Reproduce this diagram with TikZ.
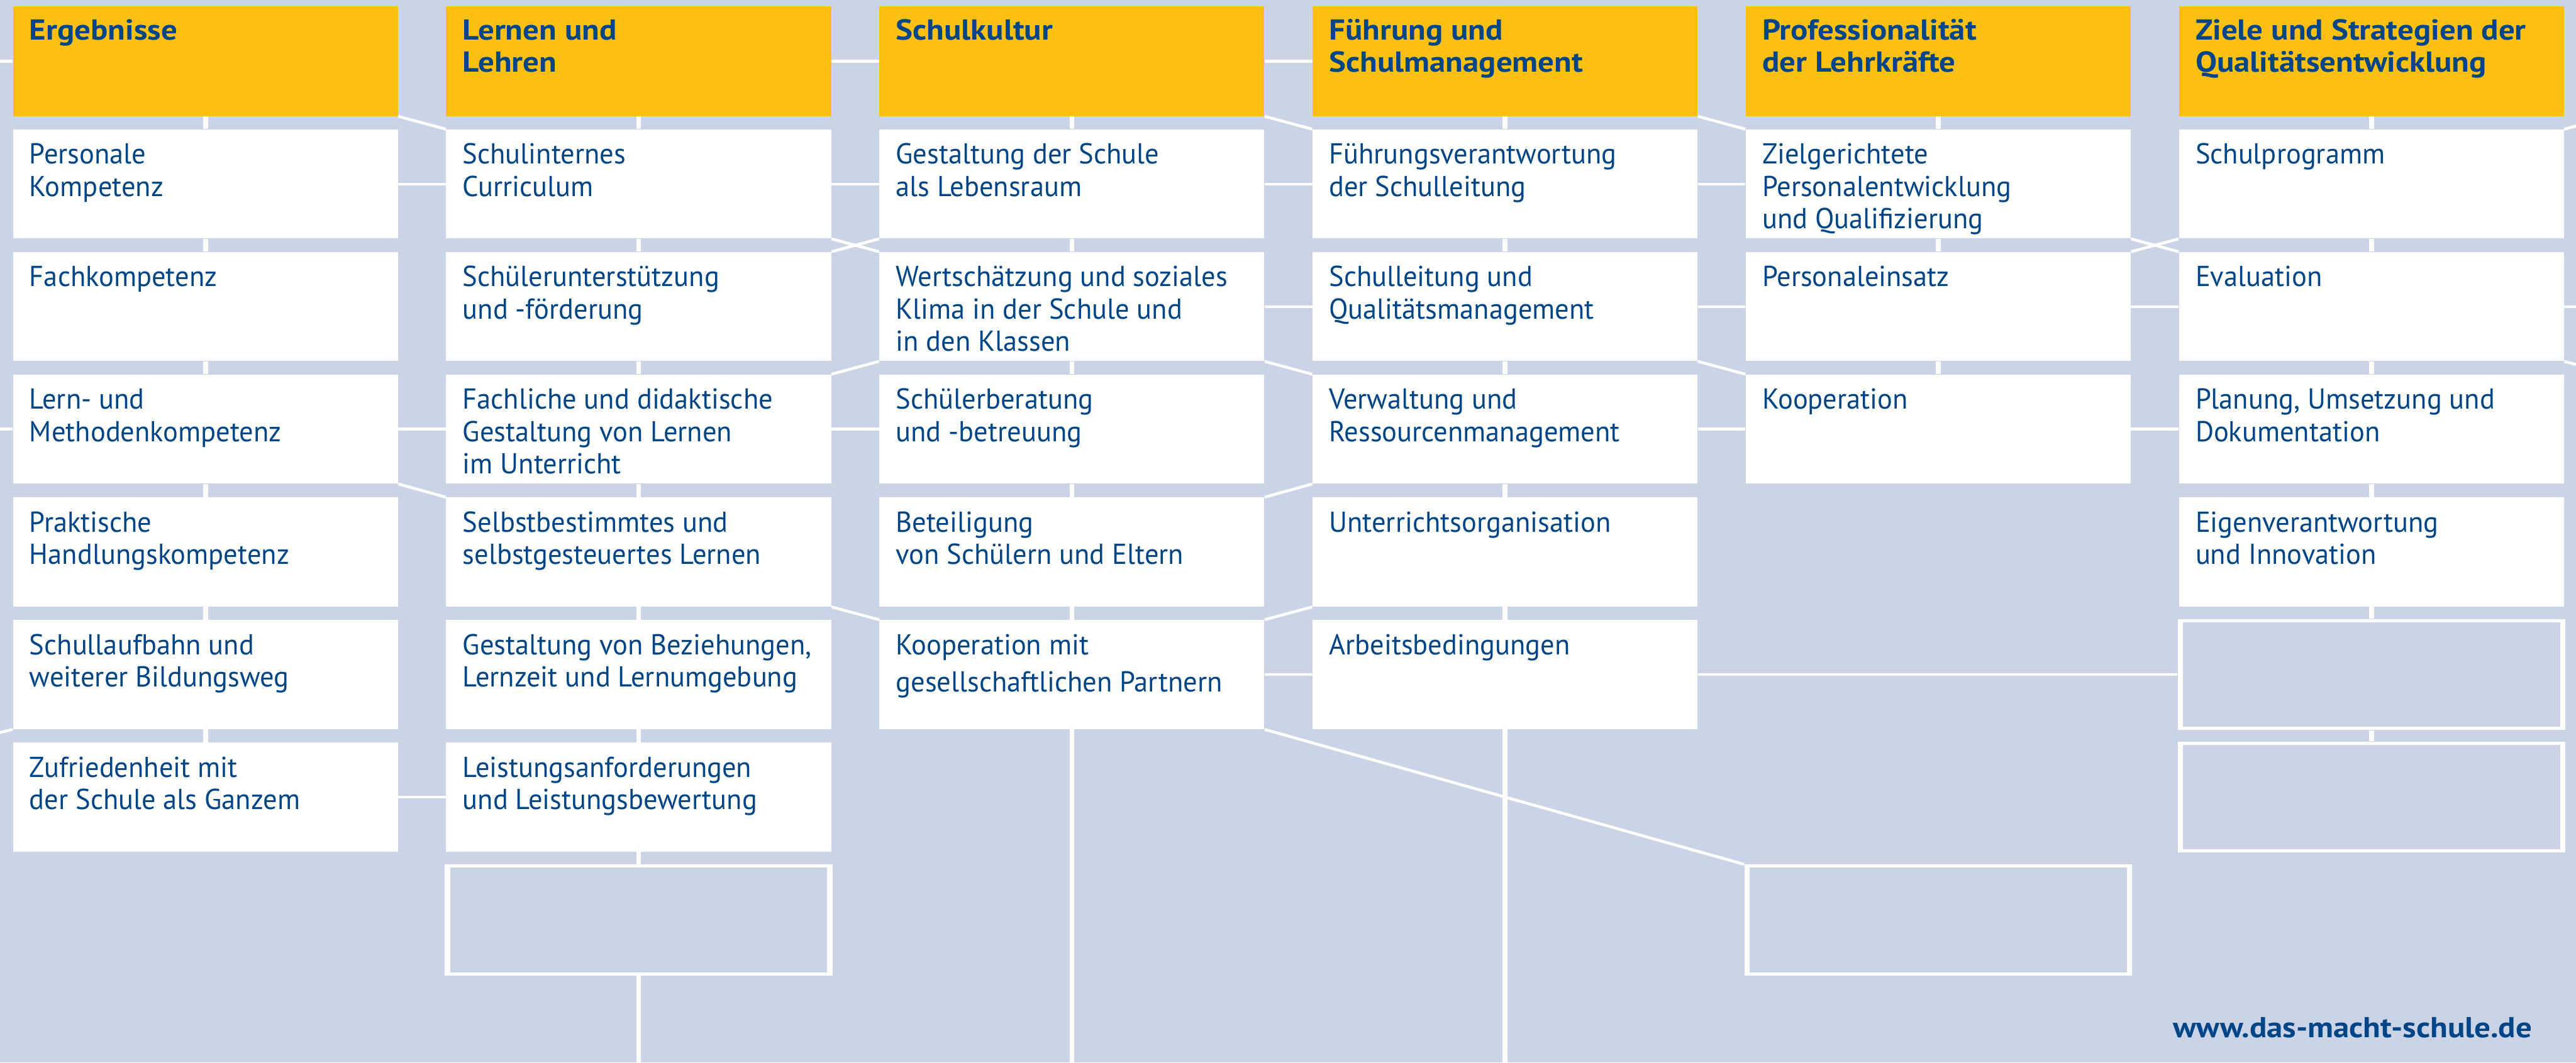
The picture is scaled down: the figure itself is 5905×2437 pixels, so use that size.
\documentclass[tikz,border=0pt]{standalone}
\usepackage{fontspec}
\setmainfont{PT Sans}[FakeStretch=0.97, BoldFeatures={FakeStretch=1.11}]
\usetikzlibrary{calc}
\definecolor{bgblue}{RGB}{203,212,230}
\definecolor{hdrgold}{RGB}{252,191,19}
\definecolor{inkblue}{RGB}{0,69,135}
\pgfdeclarelayer{links}
\pgfsetlayers{links,main}

\tikzset{
  box/.style={rectangle, inner sep=0pt, minimum width=8.82cm, minimum height=2.5cm, fill=white},
  hdr/.style={box, fill=hdrgold, minimum height=2.51cm},
  blank/.style={rectangle, inner sep=0pt, minimum width=8.88cm, minimum height=2.54cm, fill=white,
    path picture={\fill[bgblue] ([shift={(0.12cm,0.07cm)}]path picture bounding box.south west)
      rectangle ([shift={(-0.12cm,-0.07cm)}]path picture bounding box.north east);}},
  txt/.style={inner sep=0pt, anchor=base west, text=inkblue, font=\fontsize{18.8}{21.05}\selectfont},
  htxt/.style={txt, font=\fontsize{18.8}{21.05}\selectfont\bfseries},
  vlink/.style={draw=white, line width=0.11cm},
  hlink/.style={draw=white, line width=0.06cm},
  dlink/.style={draw=white, line width=0.065cm},
}

% name, centre x, centre y, text
\newcommand{\cellbox}[4]{%
  \node[box] (#1) at (#2,#3) {};
  \node[txt] (#1t) at ($(#1.north west)+(38,80)$) {\begin{tabular}[t]{@{}l@{}}#4\end{tabular}};
}
\newcommand{\headbox}[3]{%
  \node[hdr] (#1) at (#2,140.5) {};
  \node[htxt] (#1t) at ($(#1.north west)+(38,77)$) {\begin{tabular}[t]{@{}l@{}}#3\end{tabular}};
}

\begin{document}
\begin{tikzpicture}[x=0.01cm, y=-0.01cm]
\begin{pgfonlayer}{links}
  \fill[bgblue] (0,0) rectangle (5905,2437);
\end{pgfonlayer}
\useasboundingbox (0,0) rectangle (5905,2437);

% column centres: 471 1464 2457 3450 4443 5436
% row centres: 422 703 984 1266 1547 1828 2110

% Ergebnisse
\headbox{c1h}{471}{Ergebnisse}
\cellbox{c1r0}{471}{422}{Personale\\Kompetenz}
\cellbox{c1r1}{471}{703}{Fachkompetenz}
\cellbox{c1r2}{471}{984}{Lern- und\\Methodenkompetenz}
\cellbox{c1r3}{471}{1266}{Praktische\\Handlungskompetenz}
\cellbox{c1r4}{471}{1547}{Schullaufbahn und\\weiterer Bildungsweg}
\cellbox{c1r5}{471}{1828}{Zufriedenheit mit\\der Schule als Ganzem}

% Lernen und Lehren
\headbox{c2h}{1464}{Lernen und\\Lehren}
\cellbox{c2r0}{1464}{422}{Schulinternes\\Curriculum}
\cellbox{c2r1}{1464}{703}{Schülerunterstützung\\und -förderung}
\cellbox{c2r2}{1464}{984}{Fachliche und didaktische\\Gestaltung von Lernen\\im Unterricht}
\cellbox{c2r3}{1464}{1266}{Selbstbestimmtes und\\selbstgesteuertes Lernen}
\cellbox{c2r4}{1464}{1547}{Gestaltung von Beziehungen,\\Lernzeit und Lernumgebung}
\cellbox{c2r5}{1464}{1828}{Leistungsanforderungen\\und Leistungsbewertung}
\node[blank] (c2r6) at (1464,2110) {};

% Schulkultur
\headbox{c3h}{2457}{Schulkultur}
\cellbox{c3r0}{2457}{422}{Gestaltung der Schule\\als Lebensraum}
\cellbox{c3r1}{2457}{703}{Wertschätzung und soziales\\Klima in der Schule und\\in den Klassen}
\cellbox{c3r2}{2457}{984}{Schülerberatung\\und -betreuung}
\cellbox{c3r3}{2457}{1266}{Beteiligung\\von Schülern und Eltern}
\cellbox{c3r4}{2457}{1547}{Kooperation mit\\[0.11cm]gesellschaftlichen Partnern}

% Fuehrung und Schulmanagement
\headbox{c4h}{3450}{Führung und\\Schulmanagement}
\cellbox{c4r0}{3450}{422}{Führungsverantwortung\\der Schulleitung}
\cellbox{c4r1}{3450}{703}{Schulleitung und\\Qualitätsmanagement}
\cellbox{c4r2}{3450}{984}{Verwaltung und\\Ressourcenmanagement}
\cellbox{c4r3}{3450}{1266}{Unterrichtsorganisation}
\cellbox{c4r4}{3450}{1547}{Arbeitsbedingungen}

% Professionalitaet der Lehrkraefte
\headbox{c5h}{4443}{Professionalität\\der Lehrkräfte}
\cellbox{c5r0}{4443}{422}{Zielgerichtete\\Personalentwicklung\\und Qualifizierung}
\cellbox{c5r1}{4443}{703}{Personaleinsatz}
\cellbox{c5r2}{4443}{984}{Kooperation}
\node[blank] (c5r6) at (4443,2110) {};

% Ziele und Strategien
\headbox{c6h}{5436}{Ziele und Strategien der\\Qualitätsentwicklung}
\cellbox{c6r0}{5436}{422}{Schulprogramm}
\cellbox{c6r1}{5436}{703}{Evaluation}
\cellbox{c6r2}{5436}{984}{Planung, Umsetzung und\\Dokumentation}
\cellbox{c6r3}{5436}{1266}{Eigenverantwortung\\und Innovation}
\node[blank] (c6r4) at (5436,1547) {};
\node[blank] (c6r5) at (5436,1828) {};

\node[htxt, anchor=base east] (url) at (5805,2380) {www.das-macht-schule.de};

% edge points
\coordinate (westedge) at (0,0);
\coordinate (eastedge) at (5905,0);
\coordinate (southedge) at (0,2437);
\coordinate (lowleft) at (0,1680);
\coordinate (upright) at (5905,289);
\coordinate (lowright) at (5905,836);

\begin{pgfonlayer}{links}
  % vertical ties within the columns
  \foreach \a/\b in {c1h/c1r0,c1r0/c1r1,c1r1/c1r2,c1r2/c1r3,c1r3/c1r4,c1r4/c1r5,
      c2h/c2r0,c2r0/c2r1,c2r1/c2r2,c2r2/c2r3,c2r3/c2r4,c2r4/c2r5,c2r5/c2r6,
      c3h/c3r0,c3r0/c3r1,c3r1/c3r2,c3r2/c3r3,c3r3/c3r4,
      c4h/c4r0,c4r0/c4r1,c4r1/c4r2,c4r2/c4r3,c4r3/c4r4,
      c5h/c5r0,c5r0/c5r1,c5r1/c5r2,
      c6h/c6r0,c6r0/c6r1,c6r1/c6r2,c6r2/c6r3,c6r3/c6r4,c6r4/c6r5}
    \draw[vlink] (\a.south) -- (\b.north);
  \draw[vlink] (c2r6.south) -- (c2r6.south |- southedge);
  \draw[vlink] (c3r4.south) -- (c3r4.south |- southedge);
  \draw[vlink] (c4r4.south) -- (c4r4.south |- southedge);

  % horizontal ties between the columns
  \draw[hlink] (c1h.west) -- (c1h.west -| westedge);
  \draw[hlink] (c1r2.west) -- (c1r2.west -| westedge);
  \foreach \a/\b in {c1r0/c2r0,c1r2/c2r2,c1r5/c2r5,
      c2h/c3h,c2r0/c3r0,c2r2/c3r2,
      c3h/c4h,c3r0/c4r0,c3r1/c4r1,c3r4/c4r4,
      c4r0/c5r0,c4r1/c5r1,c4r2/c5r2,c4r4/c6r4,
      c5r1/c6r1,c5r2/c6r2}
    \draw[hlink] (\a.east) -- (\b.west);
  \draw[hlink] (c6r1.east) -- (c6r1.east -| eastedge);

  % slanted ties
  \draw[dlink] (c1r4.south west) -- (lowleft);
  \draw[dlink] (c1h.south east) -- (c2r0.north west);
  \draw[dlink] (c1r2.south east) -- (c2r3.north west);
  \draw[dlink] (c2r0.south east) -- (c3r1.north west);
  \draw[dlink] (c2r1.north east) -- (c3r0.south west);
  \draw[dlink] (c3r1.south west) -- (c2r2.north east);
  \draw[dlink] (c2r3.south east) -- (c3r4.north west);
  \draw[dlink] (c3h.south east) -- (c4r0.north west);
  \draw[dlink] (c3r1.south east) -- (c4r2.north west);
  \draw[dlink] (c4r2.south west) -- (c3r3.north east);
  \draw[dlink] (c4r3.south west) -- (c3r4.north east);
  \draw[dlink] (c3r4.south east) -- (c5r6.north west);
  \draw[dlink] (c4h.south east) -- (c5r0.north west);
  \draw[dlink] (c4r1.south east) -- (c5r2.north west);
  \draw[dlink] (c5r0.south east) -- (c6r1.north west);
  \draw[dlink] (c5r1.north east) -- (c6r0.south west);
  \draw[dlink] (c6r0.north east) -- (upright);
  \draw[dlink] (c6r1.south east) -- (lowright);
\end{pgfonlayer}
\end{tikzpicture}
\end{document}
